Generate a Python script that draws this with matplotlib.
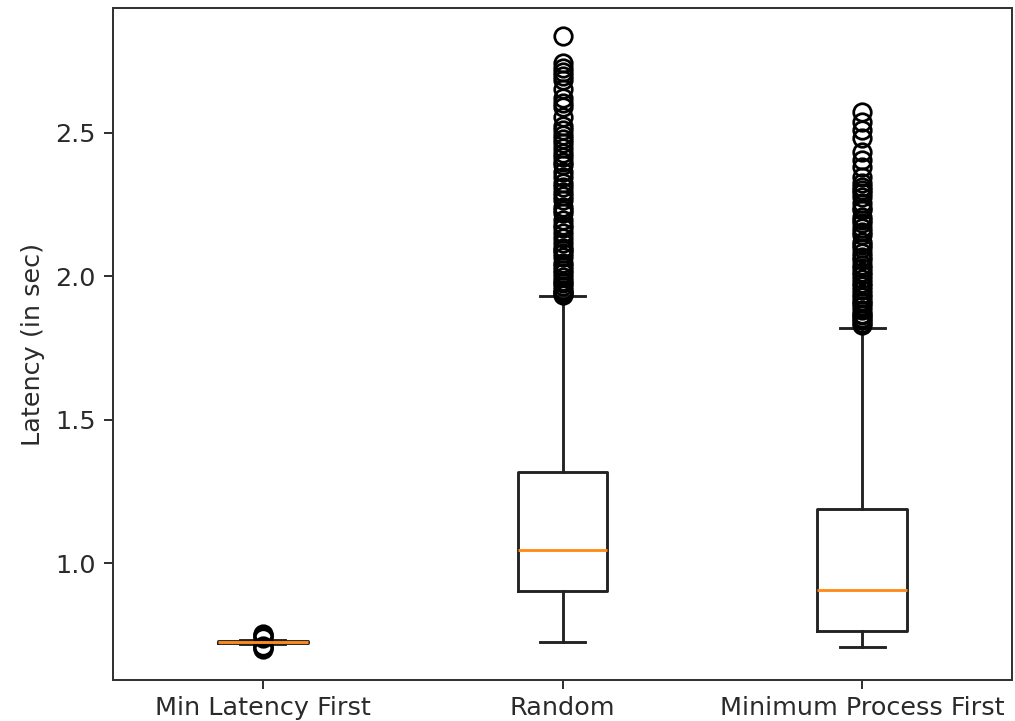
import matplotlib
matplotlib.use("Agg")
import matplotlib.pyplot as plt

categories = ["Min Latency First", "Random", "Minimum Process First"]

# box statistics (seconds)
whislo = [0.716, 0.725, 0.708]
q1 = [0.720, 0.903, 0.764]
med = [0.7245, 1.045, 0.906]
q3 = [0.728, 1.316, 1.188]
whishi = [0.733, 1.931, 1.819]

fliers_min_latency = [0.700, 0.703, 0.706, 0.709, 0.740, 0.744, 0.748, 0.752]
fliers_random = [2.839, 2.743, 2.728, 2.714, 2.700, 2.685, 2.652, 2.621, 2.605,
                 2.590, 2.557, 2.524, 2.510, 2.493, 2.480, 2.464, 2.447, 2.430,
                 2.417, 2.400, 2.388, 2.365, 2.348, 2.325, 2.310, 2.295, 2.280,
                 2.266, 2.243, 2.230, 2.220, 2.196, 2.180, 2.168, 2.150, 2.133,
                 2.115, 2.100, 2.092, 2.080, 2.069, 2.046, 2.035, 2.022, 2.010,
                 1.999, 1.985, 1.976, 1.965, 1.952, 1.945, 1.941, 1.936]
fliers_min_process = [2.574, 2.539, 2.510, 2.481, 2.435, 2.406, 2.383, 2.348,
                      2.325, 2.312, 2.301, 2.290, 2.278, 2.255, 2.240, 2.231,
                      2.208, 2.195, 2.185, 2.168, 2.155, 2.144, 2.121, 2.110,
                      2.098, 2.080, 2.068, 2.057, 2.040, 2.028, 2.015, 2.005,
                      1.990, 1.976, 1.965, 1.952, 1.940, 1.929, 1.915, 1.906,
                      1.895, 1.883, 1.870, 1.865, 1.855, 1.848, 1.838, 1.830]
fliers = [fliers_min_latency, fliers_random, fliers_min_process]

ylim = (0.592, 2.936)

stats = []
for i, name in enumerate(categories):
    stats.append(dict(label=name, whislo=whislo[i], q1=q1[i], med=med[i],
                      q3=q3[i], whishi=whishi[i], fliers=fliers[i]))

plt.rcParams["font.size"] = 10.2
plt.rcParams["axes.edgecolor"] = "#333333"
plt.rcParams["xtick.color"] = "#333333"
plt.rcParams["ytick.color"] = "#333333"
plt.rcParams["xtick.labelcolor"] = "#2a2a2a"
plt.rcParams["ytick.labelcolor"] = "#2a2a2a"
plt.rcParams["xtick.major.pad"] = 2.8

fig = plt.figure(figsize=(1015 / 180, 721 / 180), dpi=180)
ax = fig.add_axes([113 / 1015, 41 / 721, 899 / 1015, 672 / 721])
ax.bxp(stats,
       boxprops=dict(linewidth=1.15, color="#222222"),
       whiskerprops=dict(linewidth=1.15, color="#222222"),
       capprops=dict(linewidth=1.15, color="#222222"),
       medianprops=dict(linewidth=1.15, color="#ff8c1a"),
       flierprops=dict(marker="o", markersize=7, markerfacecolor="none",
                       markeredgecolor="black", markeredgewidth=1.1))
ax.set_ylim(*ylim)
ax.set_ylabel("Latency (in sec)", color="#2a2a2a")
fig.savefig("out.png", dpi=180)
